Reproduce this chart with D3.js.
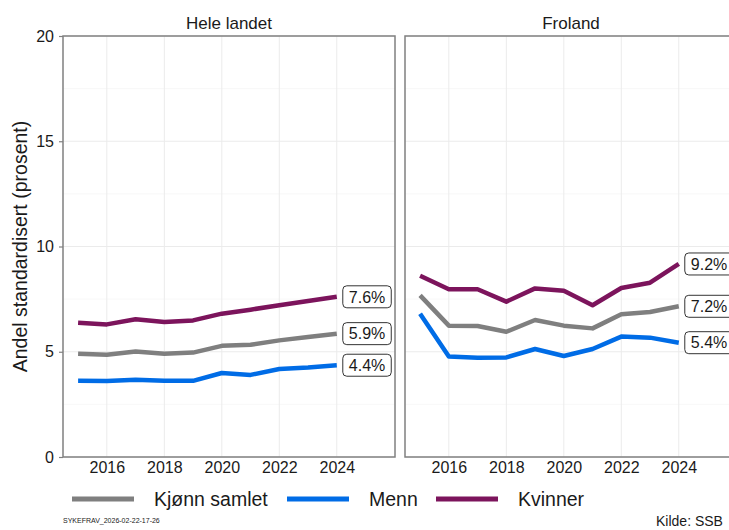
<!DOCTYPE html>
<html>
<head>
<meta charset="utf-8">
<script src="https://cdn.jsdelivr.net/npm/d3@7"></script>
<style>
  html, body { margin: 0; padding: 0; background: #fff; }
  svg { display: block; font-family: "Liberation Sans", Arial, sans-serif; }
</style>
</head>
<body>
<svg id="chart" width="729" height="530"></svg>
<script>
// ---- data ----
const years = [2015, 2016, 2017, 2018, 2019, 2020, 2021, 2022, 2023, 2024];
const panels = ["Hele landet", "Froland"];
const seriesNames = ["Kjønn samlet", "Menn", "Kvinner"];
const seriesColors = ["#7f7f7f", "#006ce6", "#7c145c"];

const heleSamlet  = [4.90, 4.86, 5.01, 4.90, 4.96, 5.28, 5.33, 5.54, 5.70, 5.86];
const heleMenn    = [3.62, 3.61, 3.67, 3.62, 3.62, 3.99, 3.90, 4.18, 4.25, 4.36];
const heleKvinner = [6.38, 6.30, 6.54, 6.41, 6.49, 6.81, 7.00, 7.21, 7.41, 7.61];

const froSamlet   = [7.68, 6.24, 6.22, 5.95, 6.51, 6.24, 6.11, 6.78, 6.89, 7.16];
const froMenn     = [6.81, 4.77, 4.72, 4.73, 5.13, 4.80, 5.13, 5.72, 5.67, 5.43];
const froKvinner  = [8.61, 7.97, 7.97, 7.38, 8.01, 7.90, 7.21, 8.03, 8.28, 9.17];

const yTicks = [0, 5, 10, 15, 20];
const yMinor = [2.5, 7.5, 12.5, 17.5];
const xTicks = [2016, 2018, 2020, 2022, 2024];

const panelData = [
  [heleSamlet, heleMenn, heleKvinner],
  [froSamlet, froMenn, froKvinner]
];

// ---- layout ----
const svg = d3.select("#chart");
const plotTop = 36, plotBottom = 457;
const panelLefts = [63, 405];
const panelW = 332;
const y = d3.scaleLinear().domain([0, 20]).range([plotBottom, plotTop]);
const xDomain = [2014.475, 2026.025];
const border = "#808080";
const grid = "#ebebeb";
const txt = "#1a1a1a";
const ff = "Liberation Sans, Arial, sans-serif";

panels.forEach((pname, pi) => {
  const x0 = panelLefts[pi];
  const x = d3.scaleLinear().domain(xDomain).range([x0, x0 + panelW]);
  const g = svg.append("g");

  // grid
  g.selectAll(".ymin").data(yMinor).enter().append("line")
    .attr("x1", x0).attr("x2", x0 + panelW)
    .attr("y1", d => y(d)).attr("y2", d => y(d))
    .attr("stroke", "#f3f3f3").attr("stroke-width", 0.6);
  g.selectAll(".ymaj").data(yTicks).enter().append("line")
    .attr("x1", x0).attr("x2", x0 + panelW)
    .attr("y1", d => y(d)).attr("y2", d => y(d))
    .attr("stroke", grid).attr("stroke-width", 1);
  g.selectAll(".xmaj").data(xTicks).enter().append("line")
    .attr("x1", d => x(d)).attr("x2", d => x(d))
    .attr("y1", plotTop).attr("y2", plotBottom)
    .attr("stroke", grid).attr("stroke-width", 1);

  // lines
  const lineGen = d3.line().x((d, i) => x(years[i])).y(d => y(d));
  panelData[pi].forEach((vals, si) => {
    g.append("path").datum(vals)
      .attr("d", lineGen)
      .attr("fill", "none")
      .attr("stroke", seriesColors[si])
      .attr("stroke-width", 4.5)
      .attr("stroke-linejoin", "round");
  });

  // end labels
  const fmt = d3.format(".1f");
  panelData[pi].forEach((vals, si) => {
    const v = vals[vals.length - 1];
    const lx = x(years[years.length - 1]) + 6;
    const ly = y(v);
    const label = fmt(v) + "%";
    const lg = g.append("g");
    const t = lg.append("text")
      .attr("x", lx + 6).attr("y", ly)
      .attr("dy", "0.36em")
      .attr("font-size", 16)
      .attr("fill", txt)
      .text(label);
    const w = t.node().getComputedTextLength();
    lg.insert("rect", "text")
      .attr("x", lx).attr("y", ly - 11)
      .attr("width", w + 12).attr("height", 22)
      .attr("rx", 4).attr("ry", 4)
      .attr("fill", "#fff").attr("stroke", "#333").attr("stroke-width", 1);
  });

  // border
  g.append("rect")
    .attr("x", x0).attr("y", plotTop)
    .attr("width", panelW).attr("height", plotBottom - plotTop)
    .attr("fill", "none").attr("stroke", border).attr("stroke-width", 1.5);

  // strip title
  g.append("text")
    .attr("x", x0 + panelW / 2).attr("y", 29)
    .attr("text-anchor", "middle")
    .attr("font-size", 17)
    .attr("font-weight", "normal")
    .attr("fill", txt)
    .text(pname);

  // x axis
  const xAxis = d3.axisBottom(x).tickValues(xTicks).tickFormat(d3.format("d")).tickSize(0).tickPadding(5);
  const xa = g.append("g").attr("transform", `translate(0,${plotBottom})`).call(xAxis);
  xa.select(".domain").remove();
  xa.selectAll("text").attr("font-size", 16).attr("fill", txt).attr("font-family", ff);

  // y axis (left panel only)
  if (pi === 0) {
    const yAxis = d3.axisLeft(y).tickValues(yTicks).tickFormat(d3.format("d")).tickSize(4).tickPadding(5);
    const ya = g.append("g").attr("transform", `translate(${x0},0)`).call(yAxis);
    ya.select(".domain").remove();
    ya.selectAll("line").attr("stroke", border).attr("stroke-width", 1.2);
    ya.selectAll("text").attr("font-size", 16).attr("fill", txt).attr("font-family", ff);
  }
});

// y title
svg.append("text")
  .attr("transform", `translate(27,${(plotTop + plotBottom) / 2}) rotate(-90)`)
  .attr("text-anchor", "middle")
  .attr("font-size", 19.5)
  .attr("fill", txt)
  .text("Andel standardisert (prosent)");

// legend
const legX = [72, 287, 436];
seriesNames.forEach((n, i) => {
  svg.append("line")
    .attr("x1", legX[i]).attr("x2", legX[i] + 62)
    .attr("y1", 499).attr("y2", 499)
    .attr("stroke", seriesColors[i]).attr("stroke-width", 5);
  svg.append("text")
    .attr("x", legX[i] + 82).attr("y", 506)
    .attr("font-size", 19.5)
    .attr("fill", txt)
    .text(n);
});

// captions
svg.append("text")
  .attr("x", 63).attr("y", 523)
  .attr("font-size", 7)
  .attr("fill", txt)
  .text("SYKEFRAV_2026-02-22-17-26");
svg.append("text")
  .attr("x", 656).attr("y", 526)
  .attr("font-size", 14)
  .attr("fill", txt)
  .text("Kilde: SSB");
</script>
</body>
</html>
